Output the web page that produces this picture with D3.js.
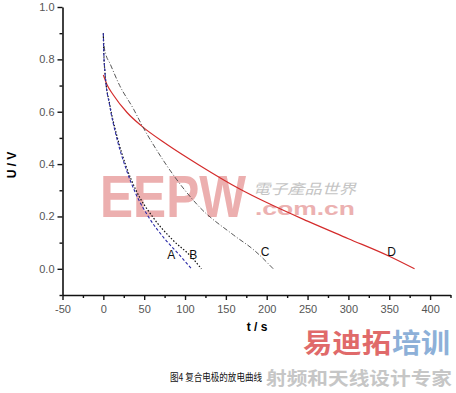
<!DOCTYPE html>
<html>
<head>
<meta charset="utf-8">
<script src="https://cdn.jsdelivr.net/npm/d3@7"></script>
<style>
  html, body { margin: 0; padding: 0; background: #fff; }
  svg { display: block; }
</style>
</head>
<body>
<svg id="chart" width="456" height="393"></svg>
<script>
// discharge curves, t in s, U in V
const seriesA = [[0, 0.90], [0.4, 0.84], [2, 0.75], [8, 0.62], [16, 0.505], [28, 0.38], [40, 0.285], [55, 0.20], [75, 0.115], [94, 0.05], [108, 0.0]];
const seriesB = [[0, 0.90], [0.4, 0.84], [2, 0.75], [8, 0.625], [16, 0.515], [28, 0.39], [40, 0.30], [60, 0.20], [85, 0.11], [108, 0.045], [120, 0.0]];
const seriesC = [[0, 0.89], [1, 0.85], [3, 0.82], [8, 0.785], [20, 0.70], [37, 0.61], [47, 0.55], [65, 0.455], [90, 0.34], [118, 0.235], [159, 0.13], [185, 0.07], [208, 0.0]];
const seriesD = [[0, 0.74], [5, 0.70], [12, 0.665], [29, 0.597], [47, 0.545], [78, 0.475], [118, 0.395], [167, 0.305], [200, 0.253], [250, 0.182], [300, 0.115], [350, 0.048], [381, 0.0]];

const seriesNames = ['A', 'B', 'C', 'D'];
const labelPos = [[83, 0.055], [110, 0.055], [198, 0.065], [353, 0.065]]; // where the letters sit

const xTicks = [-50, 0, 50, 100, 150, 200, 250, 300, 350, 400];
const xMinor = [-25, 25, 75, 125, 175, 225, 275, 325, 375, 425];
const yTicks = [0.0, 0.2, 0.4, 0.6, 0.8, 1.0];
const yMinor = [-0.1, 0.1, 0.3, 0.5, 0.7, 0.9];

const svg = d3.select('#chart');

const x = d3.scaleLinear().domain([-50, 425]).range([62.5, 450.5]);
const y = d3.scaleLinear().domain([-0.1, 1.0]).range([295, 7]);

// watermark (sits under the curves)
const wm = svg.append('g');
wm.append('text')
  .attr('x', 100).attr('y', 217)
  .attr('textLength', 146).attr('lengthAdjust', 'spacingAndGlyphs')
  .style('font-family', 'Liberation Sans, Arial, sans-serif')
  .style('font-weight', 'bold').style('font-size', '60px')
  .style('fill', '#e9a2a2').style('opacity', 0.85)
  .text('EEPW');
wm.append('text')
  .attr('x', 253).attr('y', 194)
  .attr('textLength', 103).attr('lengthAdjust', 'spacingAndGlyphs')
  .style('font-family', 'Noto Sans CJK TC, sans-serif')
  .style('font-style', 'italic').style('font-size', '14px')
  .style('fill', '#c4c4c4')
  .text('電子產品世界');
wm.append('text')
  .attr('x', 255).attr('y', 215)
  .attr('textLength', 100).attr('lengthAdjust', 'spacingAndGlyphs')
  .style('font-family', 'Liberation Sans, Arial, sans-serif')
  .style('font-weight', 'bold').style('font-size', '18px')
  .style('fill', '#eaa9a9').style('opacity', 0.9)
  .text('.com.cn');

// axes
const yAxis = svg.append('g').attr('transform', `translate(${x(-50)},0)`);
yAxis.call(d3.axisLeft(y).tickValues(yTicks).tickFormat(d3.format('.1f')).tickSize(5).tickSizeOuter(0));
yAxis.append('g').call(d3.axisLeft(y).tickValues(yMinor).tickFormat('').tickSize(3).tickSizeOuter(0))
  .select('.domain').remove();

const xAxis = svg.append('g').attr('transform', `translate(0,${y(-0.1)})`);
xAxis.call(d3.axisBottom(x).tickValues(xTicks).tickFormat(d => String(d)).tickSize(5).tickSizeOuter(0));
xAxis.append('g').call(d3.axisBottom(x).tickValues(xMinor).tickFormat('').tickSize(3).tickSizeOuter(0))
  .select('.domain').remove();

svg.selectAll('.domain').attr('stroke', '#111').attr('stroke-width', 1.6);
svg.selectAll('.tick line').attr('stroke', '#111').attr('stroke-width', 1.4);
svg.selectAll('.tick text')
  .style('font-family', 'Liberation Sans, Arial, sans-serif')
  .style('font-size', '11px')
  .style('fill', '#555');
xAxis.selectAll('.tick text').attr('dy', '0.9em');

// axis titles
svg.append('text')
  .attr('transform', 'translate(16,165) rotate(-90)')
  .style('text-anchor', 'middle')
  .style('font-family', 'Liberation Sans, Arial, sans-serif')
  .style('font-weight', 'bold').style('font-size', '12px')
  .text('U / V');
svg.append('text')
  .attr('x', 257).attr('y', 331)
  .style('text-anchor', 'middle')
  .style('font-family', 'Liberation Sans, Arial, sans-serif')
  .style('font-weight', 'bold').style('font-size', '12px')
  .text('t / s');

// curves
const line = d3.line()
  .x(d => x(d[0]))
  .y(d => y(d[1]))
  .curve(d3.curveMonotoneX);

const styles = [
  { data: seriesD, color: '#d42b2b', dash: null, w: 1.2 },
  { data: seriesC, color: '#444', dash: '5,2,1,2', w: 0.9 },
  { data: seriesB, color: '#111', dash: '1.5,1.8', w: 1.2 },
  { data: seriesA, color: '#2a2aa8', dash: '3,2', w: 1.1 }
];

styles.forEach(s => {
  svg.append('path')
    .datum(s.data)
    .attr('fill', 'none')
    .attr('stroke', s.color)
    .attr('stroke-width', s.w)
    .attr('stroke-dasharray', s.dash)
    .attr('d', line);
});

svg.selectAll('.curve-label')
  .data(seriesNames)
  .enter().append('text')
  .attr('class', 'curve-label')
  .attr('x', (d, i) => x(labelPos[i][0]))
  .attr('y', (d, i) => y(labelPos[i][1]))
  .attr('dy', '0.35em')
  .style('text-anchor', 'middle')
  .style('font-family', 'Liberation Sans, Arial, sans-serif')
  .style('font-size', '12px')
  .style('fill', '#111')
  .text(d => d);

// bottom-right watermark
const wm2 = svg.append('g');
wm2.append('text')
  .attr('x', 303).attr('y', 353)
  .attr('textLength', 88).attr('lengthAdjust', 'spacingAndGlyphs')
  .style('font-family', 'Noto Sans CJK SC, sans-serif')
  .style('font-weight', 'bold').style('font-size', '27px')
  .style('fill', '#e06a6a')
  .text('易迪拓');
wm2.append('text')
  .attr('x', 392).attr('y', 353)
  .attr('textLength', 58).attr('lengthAdjust', 'spacingAndGlyphs')
  .style('font-family', 'Noto Sans CJK SC, sans-serif')
  .style('font-weight', 'bold').style('font-size', '27px')
  .style('fill', '#8db0d8')
  .text('培训');

// caption
svg.append('text')
  .attr('x', 170).attr('y', 381)
  .attr('textLength', 92).attr('lengthAdjust', 'spacingAndGlyphs')
  .attr('xml:space', 'preserve')
  .style('white-space', 'pre')
  .style('font-family', 'Noto Sans CJK SC, sans-serif')
  .style('font-size', '10.5px')
  .style('fill', '#111')
  .text('图4 复合电极的放电曲线');

wm2.append('text')
  .attr('x', 266).attr('y', 385)
  .attr('textLength', 186).attr('lengthAdjust', 'spacingAndGlyphs')
  .style('font-family', 'Noto Sans CJK SC, sans-serif')
  .style('font-weight', 'bold').style('font-size', '18px')
  .style('fill', '#b8b8b8').style('opacity', 0.8)
  .text('射频和天线设计专家');
</script>
</body>
</html>
